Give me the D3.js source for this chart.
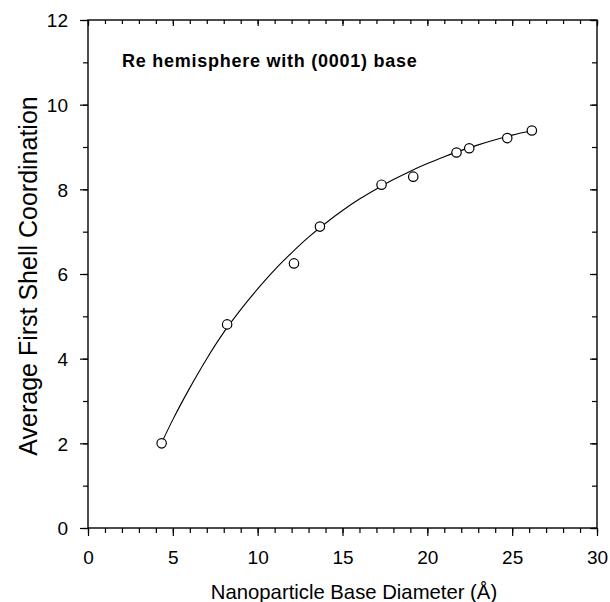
<!DOCTYPE html>
<html>
<head>
<meta charset="utf-8">
<script src="https://cdn.jsdelivr.net/npm/d3@7"></script>
<style>
  html, body { margin: 0; padding: 0; background: #fff; }
  svg { display: block; }
  text { font-family: "Liberation Sans", Arial, Helvetica, sans-serif; fill: #000; }
</style>
</head>
<body>
<svg id="chart" width="610" height="602"></svg>
<script>
// Measured coordination numbers for Re hemispheres
const diameters = [4.34, 8.2, 12.14, 13.67, 17.3, 19.17, 21.72, 22.47, 24.71, 26.16];
const coordination = [2.0, 4.81, 6.25, 7.12, 8.11, 8.30, 8.87, 8.97, 9.21, 9.39];

// Smooth trend curve through the measurements
const curveX = [4.3, 5, 6, 7, 8, 9, 10, 11, 12, 13, 14, 15, 16, 17, 18, 19, 20, 21, 22, 23, 24, 25, 26.2];
const curveY = [1.98, 2.56, 3.31, 4.0, 4.62, 5.16, 5.65, 6.1, 6.5, 6.87, 7.2, 7.5, 7.77, 8.01, 8.23, 8.43, 8.61, 8.77, 8.92, 9.05, 9.17, 9.28, 9.39];

const xTicks = [0, 5, 10, 15, 20, 25, 30];
const yTicks = [0, 2, 4, 6, 8, 10, 12];
const xMinor = d3.range(0, 31, 1);
const yMinor = d3.range(0, 13, 1);

const title = "Re hemisphere with (0001) base";
const xTitle = "Nanoparticle Base Diameter (Å)";
const yTitle = "Average First Shell Coordination";

const svg = d3.select("#chart");
const plotLeft = 88, plotRight = 597, plotTop = 20, plotBottom = 528;

const x = d3.scaleLinear().domain([0, 30]).range([plotLeft, plotRight]);
const y = d3.scaleLinear().domain([0, 12]).range([plotBottom, plotTop]);

const axisStroke = 1.4;

// Frame
svg.append("rect")
  .attr("x", plotLeft).attr("y", plotTop)
  .attr("width", plotRight - plotLeft).attr("height", plotBottom - plotTop)
  .attr("fill", "none").attr("stroke", "#000").attr("stroke-width", axisStroke);

// Bottom axis: outward ticks
const gx = svg.append("g").attr("transform", `translate(0,${plotBottom})`);
gx.call(d3.axisBottom(x).tickValues(xMinor).tickSize(5).tickFormat(""));
gx.append("g").call(d3.axisBottom(x).tickValues(xTicks).tickSize(8).tickFormat(d3.format("d")));
gx.selectAll(".domain").remove();
gx.selectAll("line").attr("stroke", "#000").attr("stroke-width", 1.2);
gx.selectAll("text").attr("font-size", 19).attr("dy", 0).attr("y", 36);

// Left axis: outward ticks
const gy = svg.append("g").attr("transform", `translate(${plotLeft},0)`);
gy.call(d3.axisLeft(y).tickValues(yMinor).tickSize(5).tickFormat(""));
gy.append("g").call(d3.axisLeft(y).tickValues(yTicks).tickSize(8).tickFormat(d3.format("d")));
gy.selectAll(".domain").remove();
gy.selectAll("line").attr("stroke", "#000").attr("stroke-width", 1.2);
gy.selectAll("text").attr("font-size", 19).attr("x", -20).attr("dy", "0.36em");

// Top axis: inward ticks
const gt = svg.append("g").attr("transform", `translate(0,${plotTop})`);
gt.call(d3.axisTop(x).tickValues(xMinor).tickSize(-4).tickFormat(""));
gt.append("g").call(d3.axisTop(x).tickValues(xTicks).tickSize(-6).tickFormat(""));
gt.selectAll(".domain").remove();
gt.selectAll("line").attr("stroke", "#000").attr("stroke-width", 1.2);

// Right axis: inward ticks
const gr = svg.append("g").attr("transform", `translate(${plotRight},0)`);
gr.call(d3.axisRight(y).tickValues(yMinor).tickSize(-5).tickFormat(""));
gr.append("g").call(d3.axisRight(y).tickValues(yTicks).tickSize(-7).tickFormat(""));
gr.selectAll(".domain").remove();
gr.selectAll("line").attr("stroke", "#000").attr("stroke-width", 1.2);

// Trend curve
const line = d3.line()
  .x((d, i) => x(curveX[i]))
  .y((d, i) => y(curveY[i]))
  .curve(d3.curveMonotoneX);
svg.append("path")
  .attr("d", line(curveX))
  .attr("fill", "none")
  .attr("stroke", "#000")
  .attr("stroke-width", 1.1);

// Measured points
svg.append("g").selectAll("circle")
  .data(diameters)
  .join("circle")
  .attr("cx", d => x(d))
  .attr("cy", (d, i) => y(coordination[i]))
  .attr("r", 4.7)
  .attr("fill", "#fff")
  .attr("stroke", "#000")
  .attr("stroke-width", 1.2);

// Titles
svg.append("text")
  .attr("x", 122).attr("y", 67)
  .attr("font-size", 18).attr("font-weight", "bold")
  .attr("letter-spacing", "0.75px")
  .text(title);

svg.append("text")
  .attr("x", 354).attr("y", 599)
  .attr("text-anchor", "middle")
  .attr("font-size", 20.3)
  .text(xTitle);

svg.append("text")
  .attr("transform", `translate(37,276) rotate(-90)`)
  .attr("text-anchor", "middle")
  .attr("font-size", 25)
  .text(yTitle);
</script>
</body>
</html>
